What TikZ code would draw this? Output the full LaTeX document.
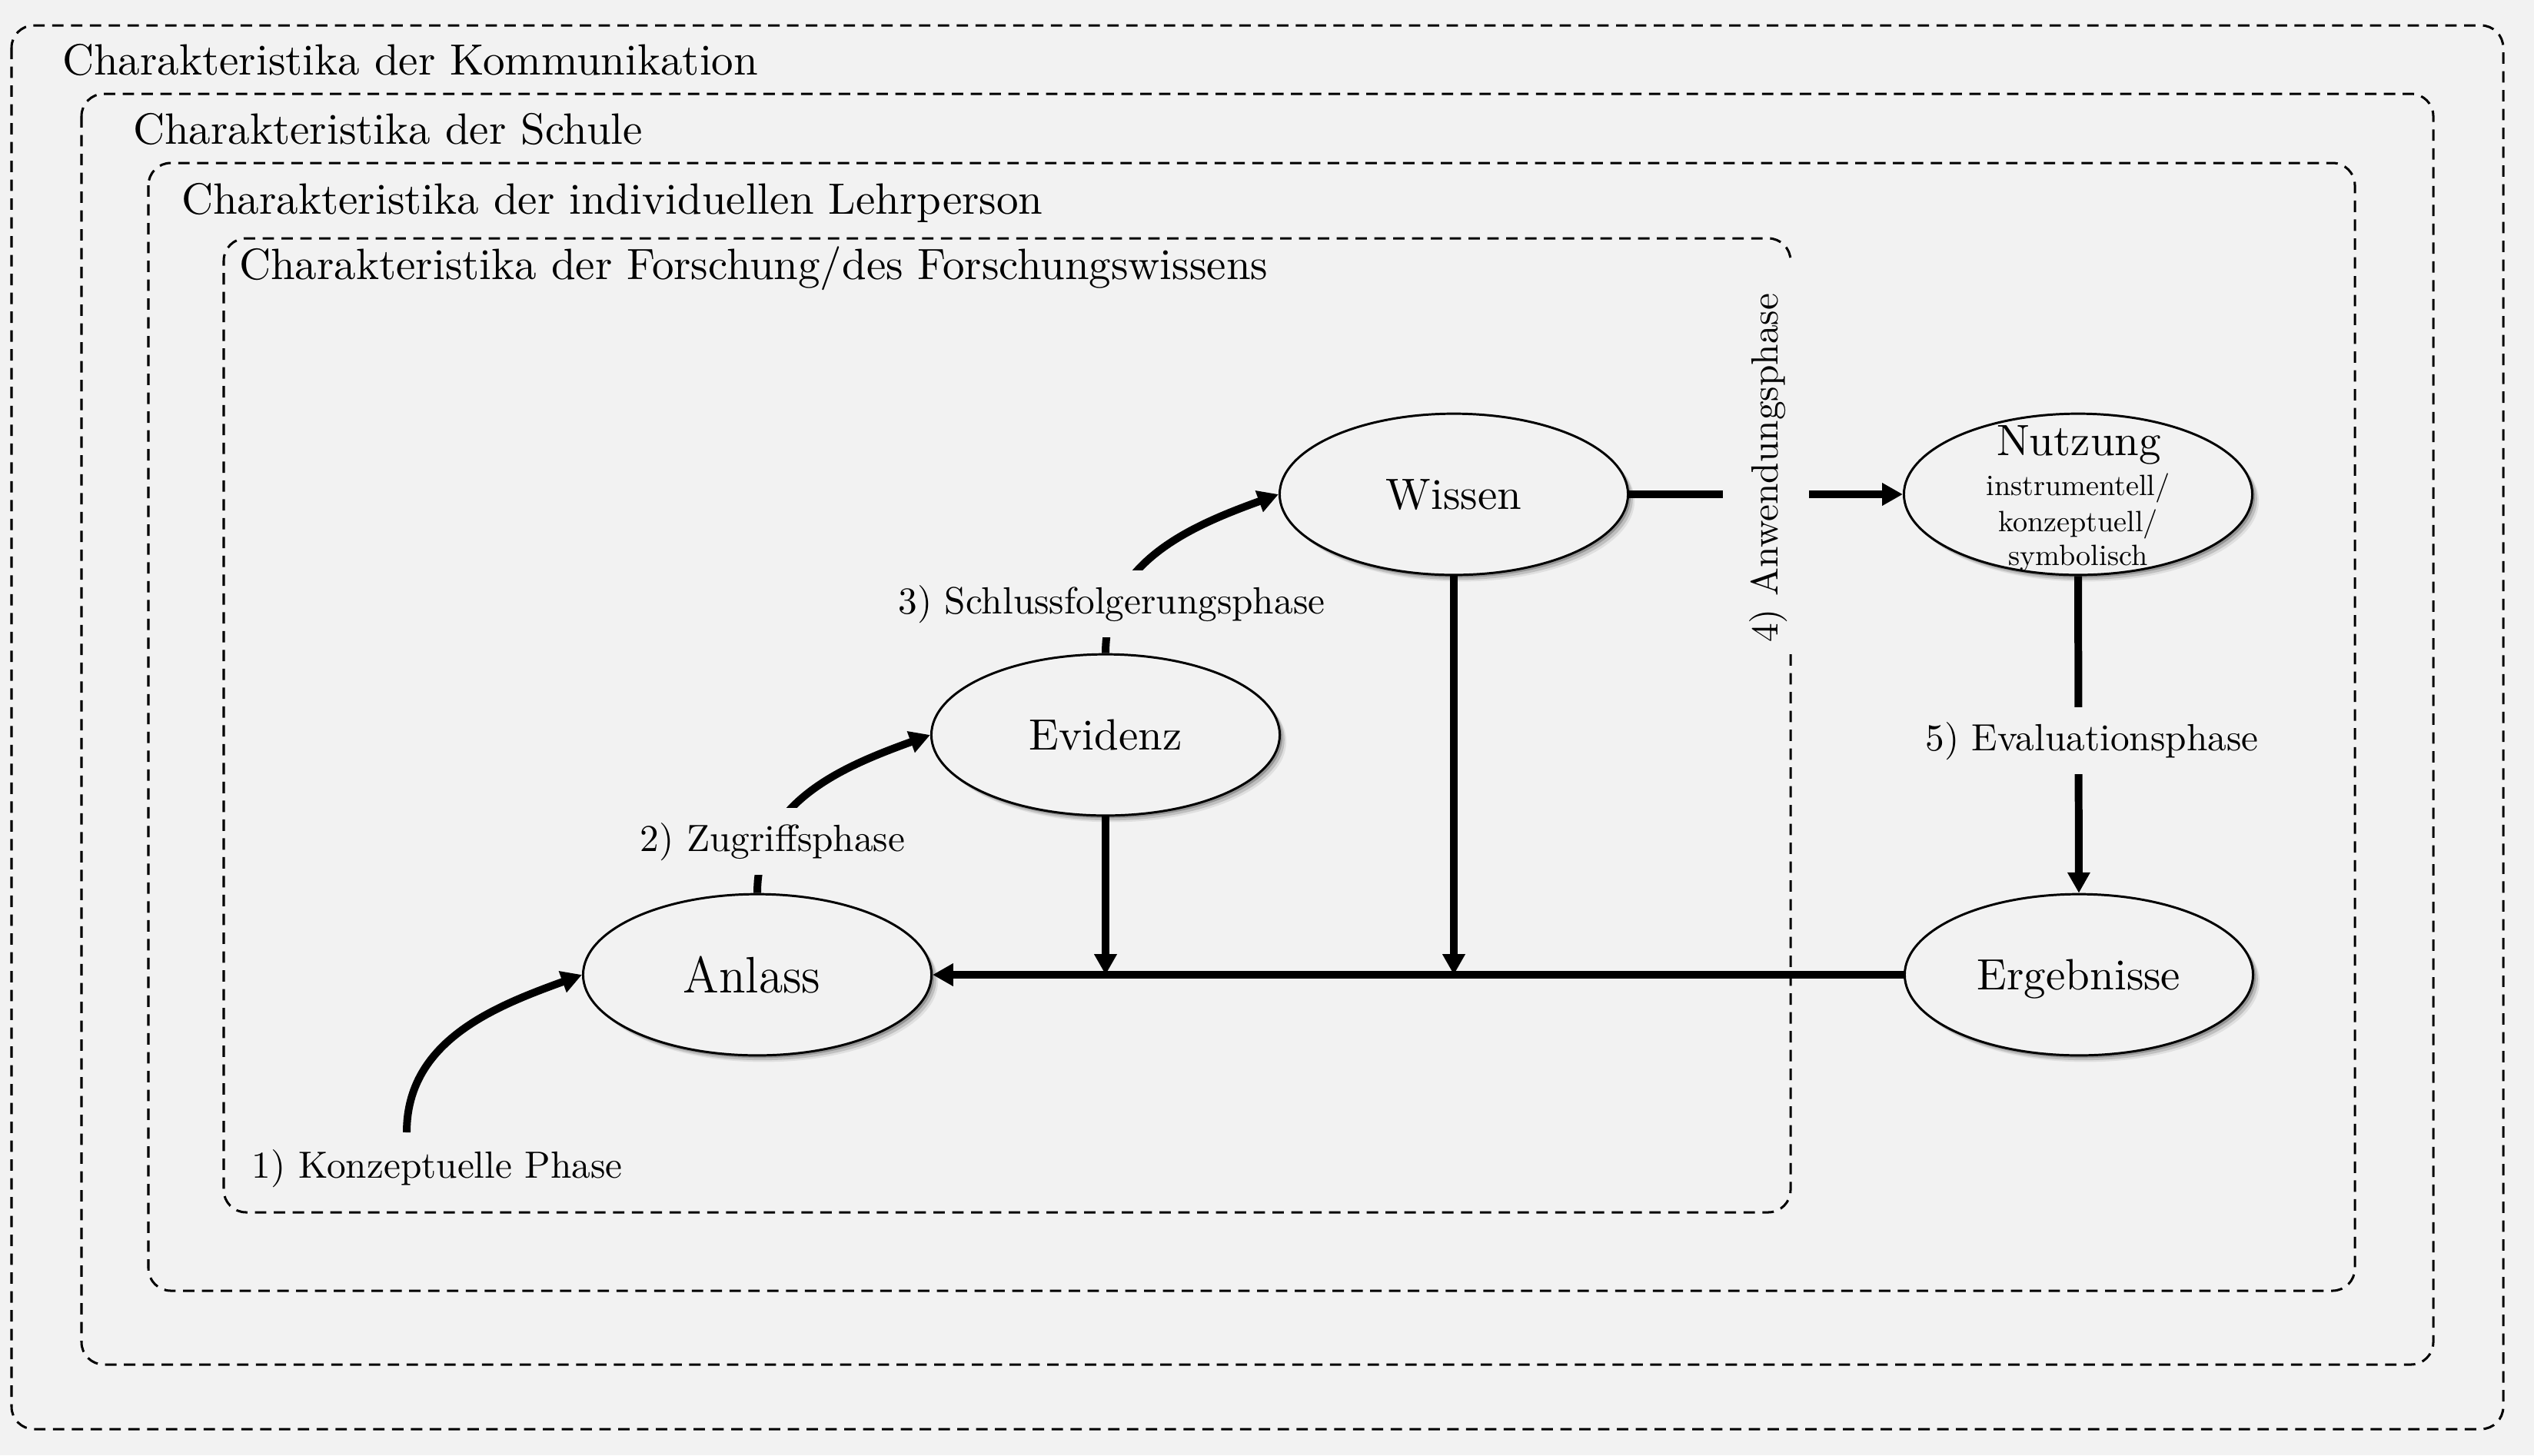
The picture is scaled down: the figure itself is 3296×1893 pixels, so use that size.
\documentclass[tikz,border=0pt]{standalone}
\usetikzlibrary{arrows.meta,shapes.geometric,shadows}
\definecolor{bg}{RGB}{242,242,242}
\begin{document}
\begin{tikzpicture}[x=0.17544pt,y=-0.17544pt,
  boxline/.style={draw=black, line width=0.53pt, dash pattern=on 2.6pt off 1.7pt, rounded corners=5.1pt},
  boxtitle/.style={anchor=base west, inner sep=0pt, font=\normalsize},
  shadowstack/.style={
    drop shadow={shadow xshift=1.5pt,shadow yshift=-1.5pt,opacity=0.08,fill=black},
    drop shadow={shadow xshift=1.1pt,shadow yshift=-1.1pt,opacity=0.14,fill=black},
    drop shadow={shadow xshift=0.6pt,shadow yshift=-0.6pt,opacity=0.22,fill=black}},
  ellnode/.style={ellipse, draw=black, line width=0.52pt, fill=bg, minimum width=79.5pt, minimum height=36.8pt, inner sep=0pt, text depth=0pt, font=\normalsize, shadowstack},
  conn/.style={line width=1.75pt, draw=black},
  conarrow/.style={-{Triangle[length=4.7pt,width=4.9pt]}},
  phaselabel/.style={scale=0.865, font=\normalsize, inner sep=3.8pt, fill=bg},
  subline/.style={scale=0.67, font=\normalsize, anchor=base, inner sep=0pt}
]
\useasboundingbox (0,0) rectangle (3296,1893);
\fill[bg] (0,0) rectangle (3296,1893);

% nested boxes
\draw[boxline] (15,33) rectangle (3256,1859);
\draw[boxline] (106,122) rectangle (3165,1775);
\draw[boxline] (193,212) rectangle (3063,1679);
\draw[boxline] (2329,851) |- (291,1577) |- (2329,310) -- (2329,342);

\node[boxtitle] (t1) at (80,97) {Charakteristika der Kommunikation};
\node[boxtitle] (t2) at (172,187) {Charakteristika der Schule};
\node[boxtitle] (t3) at (235,278) {Charakteristika der individuellen Lehrperson};
\node[boxtitle] (t4) at (310,363) {Charakteristika der Forschung/des Forschungswissens};

% ellipses
\node[ellnode] (anl) at (985,1268) {};
\node[ellnode] (evi) at (1438,956) {Evidenz};
\node[ellnode] (wis) at (1891,643) {Wissen};
\node[ellnode] (nut) at (2703,643) {};
\node[ellnode] (erg) at (2704,1268) {Ergebnisse};

\node[anchor=base, inner sep=0pt, font=\fontsize{11.7}{14}\selectfont, xscale=0.955] (anlT) at (978,1291) {Anlass};
\node[anchor=base, inner sep=0pt, font=\normalsize] (nutT) at (2704,592) {Nutzung};
\node[subline] (nut1) at (2703,644) {instrumentell/};
\node[subline] (nut2) at (2703,691) {konzeptuell/};
\node[subline] (nut3) at (2703,735) {symbolisch};

% helper coordinates
\coordinate (k1) at (529,1473);
\coordinate (g1) at (2241,643);
\coordinate (g2) at (2353,643);
\coordinate (j1) at (evi.south |- anl.east);
\coordinate (j2) at (wis.south |- anl.east);

% connectors
\draw[conn, conarrow] (k1) to[out=90,in=200] (anl.west);
\draw[conn, conarrow] (anl.north) to[out=90,in=200] (evi.west);
\draw[conn, conarrow] (evi.north) to[out=90,in=200] (wis.west);
\draw[conn] (wis.east) -- (g1);
\draw[conn, conarrow] (g2) -- (nut.west);
\draw[conn, conarrow] (nut.south) -- (erg.north);
\draw[conn, conarrow] (erg.west) -- (anl.east);
\draw[conn, conarrow] (evi.south) -- (j1);
\draw[conn, conarrow] (wis.south) -- (j2);

% phase labels
\node[phaselabel, anchor=base west, fill=none, inner sep=0pt] (lab1) at (327,1532) {1) Konzeptuelle Phase};
\node[phaselabel, anchor=base] (lab2) at (1005,1107) {2) Zugriffsphase};
\node[phaselabel, anchor=base] (lab3) at (1446,798) {3) Schlussfolgerungsphase};
\node[phaselabel, rotate=90, fill=none, inner sep=0pt] (lab4) at (2300,609) {4) Anwendungsphase};
\node[phaselabel, anchor=base] (lab5) at (2721,976) {5) Evaluationsphase};
\end{tikzpicture}
\end{document}
